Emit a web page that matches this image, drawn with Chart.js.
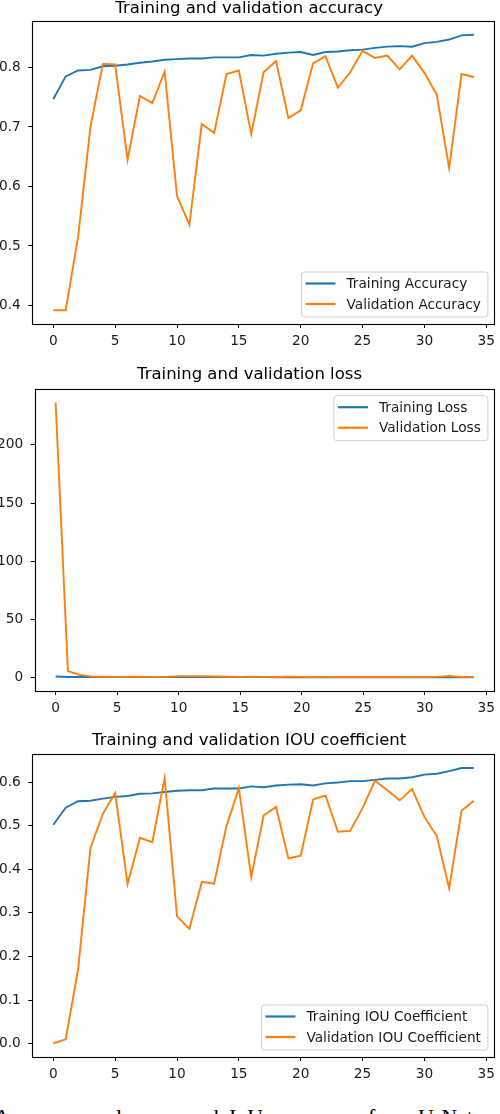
<!DOCTYPE html>
<html>
<head>
<meta charset="utf-8">
<script src="https://cdn.jsdelivr.net/npm/chart.js@4.4.1/dist/chart.umd.min.js"></script>
<style>
  body { margin: 0; background: #fff; width: 500px; height: 1114px; overflow: hidden; position: relative; }
  canvas { position: absolute; left: 0; }
  .cap { position: absolute; top: 1106px; font-family: "Liberation Serif", serif; font-size: 22px; line-height: 22px; color: #000; white-space: nowrap; }
</style>
</head>
<body>
<canvas id="accChart" width="500" height="350" style="top:0"></canvas>
<canvas id="lossChart" width="500" height="358" style="top:360px"></canvas>
<canvas id="iouChart" width="500" height="365" style="top:720px"></canvas>

<span class="cap" style="left:-6px">Accuracy,</span>
<span class="cap" style="left:116px">loss</span>
<span class="cap" style="left:187px">and</span>
<span class="cap" style="left:229px">IoU</span>
<span class="cap" style="left:290px">curves</span>
<span class="cap" style="left:368px">for</span>
<span class="cap" style="left:418px">U-Net</span>

<script>
// epochs (x axis)
const epochs = [0,1,2,3,4,5,6,7,8,9,10,11,12,13,14,15,16,17,18,19,20,21,22,23,24,25,26,27,28,29,30,31,32,33,34];
const xTicks = [0,5,10,15,20,25,30,35];

// accuracy
const trainAcc = [0.747,0.785,0.795,0.796,0.802,0.803,0.805,0.808,0.810,0.813,0.814,0.815,0.815,0.817,0.817,0.817,0.821,0.820,0.823,0.825,0.826,0.821,0.826,0.827,0.829,0.830,0.833,0.835,0.836,0.835,0.841,0.843,0.847,0.854,0.855];
const valAcc = [0.392,0.392,0.515,0.700,0.806,0.805,0.645,0.752,0.740,0.793,0.584,0.536,0.705,0.690,0.789,0.795,0.688,0.792,0.811,0.715,0.728,0.807,0.819,0.766,0.792,0.828,0.816,0.820,0.797,0.820,0.791,0.754,0.631,0.789,0.784];
const accTicks = [0.4,0.5,0.6,0.7,0.8];

// loss
const trainLoss = [0.95,0.62,0.55,0.53,0.51,0.50,0.49,0.48,0.47,0.46,0.46,0.45,0.45,0.44,0.44,0.44,0.43,0.43,0.42,0.42,0.41,0.42,0.41,0.41,0.40,0.40,0.39,0.39,0.39,0.39,0.38,0.37,0.37,0.36,0.35];
const valLoss = [236.5,5.7,2.3,0.9,0.8,0.7,0.9,0.8,0.7,0.7,1.2,1.3,1.2,1.0,0.8,0.7,0.9,0.7,0.6,0.8,0.7,0.6,0.7,0.6,0.6,0.6,0.5,0.6,0.5,0.5,0.6,0.7,1.4,0.6,0.6];
const lossTicks = [0,50,100,150,200];

// IOU coefficient
const trainIou = [0.502,0.541,0.556,0.557,0.562,0.566,0.568,0.573,0.574,0.577,0.580,0.581,0.581,0.585,0.585,0.585,0.590,0.588,0.592,0.594,0.595,0.592,0.597,0.599,0.602,0.602,0.605,0.608,0.608,0.611,0.617,0.619,0.625,0.632,0.632];
const valIou = [0.001,0.010,0.170,0.449,0.527,0.575,0.366,0.472,0.462,0.609,0.292,0.263,0.371,0.367,0.500,0.586,0.382,0.523,0.543,0.425,0.431,0.560,0.569,0.486,0.488,0.540,0.603,0.581,0.558,0.584,0.520,0.476,0.356,0.534,0.557];
const iouTicks = [0.0,0.1,0.2,0.3,0.4,0.5,0.6];

const BLUE = '#1f77b4';
const ORANGE = '#ff7f0e';
const FONT_SIZE = 13.7;

Chart.defaults.font.family = '"DejaVu Sans", sans-serif';
Chart.defaults.color = '#1a1a1a';

// matplotlib style: 5% margin round the data
function padRange(arrs) {
    const all = [].concat(...arrs);
    const lo = Math.min(...all), hi = Math.max(...all);
    const m = (hi - lo) * 0.05;
    return { min: lo - m, max: hi + m };
}

// frame round the axes + legend box inside the plot
const boxLegend = {
    id: 'boxLegend',
    afterDraw(chart, args, opts) {
        const ctx = chart.ctx;
        const a = chart.chartArea;
        ctx.save();
        ctx.strokeStyle = '#000';
        ctx.lineWidth = 1.1;
        ctx.strokeRect(Math.round(a.left) + 0.5, Math.round(a.top) + 0.5,
                       Math.round(a.right - a.left) - 1, Math.round(a.bottom - a.top));

        ctx.font = FONT_SIZE + 'px "DejaVu Sans", sans-serif';
        const sets = chart.data.datasets;
        const textW = Math.max(...sets.map(d => ctx.measureText(d.label).width));
        const w = 4 + 30 + 11 + textW + 7;
        const h = 45;
        const off = 7;
        const x = a.right - off - w;
        const y = opts.corner === 'tr' ? a.top + off : a.bottom - off - h;

        ctx.beginPath();
        ctx.roundRect(x, y, w, h, 3);
        ctx.fillStyle = 'rgba(255,255,255,0.8)';
        ctx.fill();
        ctx.lineWidth = 1;
        ctx.strokeStyle = '#d0d0d0';
        ctx.stroke();

        sets.forEach((d, i) => {
            const ry = y + 11.5 + i * 20.5;
            ctx.beginPath();
            ctx.moveTo(x + 4, ry);
            ctx.lineTo(x + 34, ry);
            ctx.strokeStyle = d.borderColor;
            ctx.lineWidth = 2.2;
            ctx.stroke();
            ctx.fillStyle = '#1a1a1a';
            ctx.textBaseline = 'middle';
            ctx.textAlign = 'left';
            ctx.fillText(d.label, x + 45, ry + 1);
        });
        ctx.restore();
    }
};

function makeChart(id, cfg) {
    const yr = padRange([cfg.train, cfg.val]);
    const xr = padRange([epochs]);
    const pts = arr => epochs.map((e, i) => ({ x: e, y: arr[i] }));

    new Chart(document.getElementById(id), {
        type: 'line',
        data: {
            datasets: [
                { label: cfg.names[0], data: pts(cfg.train), borderColor: BLUE, borderWidth: 1.9, pointRadius: 0, tension: 0, order: 1 },
                { label: cfg.names[1], data: pts(cfg.val), borderColor: ORANGE, borderWidth: 1.9, pointRadius: 0, tension: 0, order: 0 }
            ]
        },
        options: {
            responsive: false,
            animation: false,
            events: [],
            layout: { padding: { left: 0, right: cfg.padRight, top: 0, bottom: 0 } },
            scales: {
                x: {
                    type: 'linear',
                    min: xr.min,
                    max: xr.max,
                    afterBuildTicks: s => { s.ticks = xTicks.map(v => ({ value: v })); },
                    afterFit: s => { s.height = cfg.xHeight; },
                    grid: { display: true, drawOnChartArea: false, drawTicks: true, tickLength: 4, tickColor: '#000', tickWidth: 1 },
                    border: { display: false },
                    ticks: { font: { size: FONT_SIZE }, padding: 5, maxRotation: 0, callback: v => String(v) }
                },
                y: {
                    type: 'linear',
                    min: yr.min,
                    max: yr.max,
                    afterBuildTicks: s => { s.ticks = cfg.yTicks.map(v => ({ value: v })); },
                    afterFit: s => { s.width = cfg.yWidth; },
                    grid: { display: true, drawOnChartArea: false, drawTicks: true, tickLength: 4, tickColor: '#000', tickWidth: 1 },
                    border: { display: false },
                    ticks: { font: { size: FONT_SIZE }, padding: 7.5, callback: cfg.fmt }
                }
            },
            plugins: {
                legend: { display: false },
                tooltip: { enabled: false },
                title: {
                    display: true,
                    text: cfg.title,
                    color: '#000',
                    font: { size: 16.5, weight: 'normal', lineHeight: 1 },
                    padding: cfg.titlePad
                },
                boxLegend: { corner: cfg.corner }
            }
        },
        plugins: [boxLegend]
    });
}

makeChart('accChart', {
    title: 'Training and validation accuracy',
    train: trainAcc, val: valAcc,
    names: ['Training Accuracy', 'Validation Accuracy'],
    yTicks: accTicks, fmt: v => v.toFixed(1),
    corner: 'br', padRight: 1.7, yWidth: 32.3, xHeight: 26,
    titlePad: { top: 0, bottom: 4.5 }
});

makeChart('lossChart', {
    title: 'Training and validation loss',
    train: trainLoss, val: valLoss,
    names: ['Training Loss', 'Validation Loss'],
    yTicks: lossTicks, fmt: v => String(v),
    corner: 'tr', padRight: 1, yWidth: 34.7, xHeight: 27,
    titlePad: { top: 6.7, bottom: 5.5 }
});

makeChart('iouChart', {
    title: 'Training and validation IOU coefficient',
    train: trainIou, val: valIou,
    names: ['Training IOU Coefficient', 'Validation IOU Coefficient'],
    yTicks: iouTicks, fmt: v => v.toFixed(1),
    corner: 'br', padRight: 1.7, yWidth: 32.3, xHeight: 28,
    titlePad: { top: 12.4, bottom: 5.4 }
});
</script>
</body>
</html>
